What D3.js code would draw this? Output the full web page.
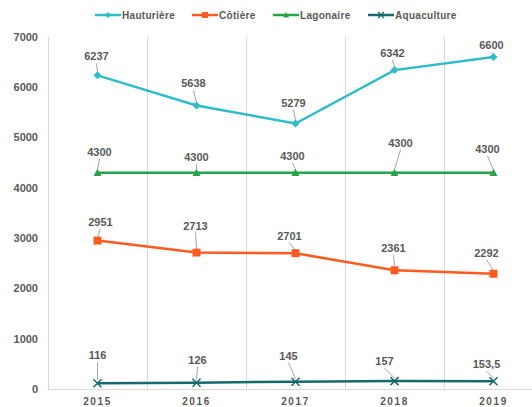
<!DOCTYPE html>
<html>
<head>
<meta charset="utf-8">
<script src="https://cdn.jsdelivr.net/npm/d3@7"></script>
<style>
  body { margin: 0; background: #fff; }
  text { font-family: "Liberation Sans", Arial, sans-serif; font-weight: bold; fill: #595959; }
</style>
</head>
<body>
<div id="chart"></div>
<script>
// data
var years = ["2015", "2016", "2017", "2018", "2019"];
var hauturiere = [6237, 5638, 5279, 6342, 6600];
var cotiere = [2951, 2713, 2701, 2361, 2292];
var lagonaire = [4300, 4300, 4300, 4300, 4300];
var aquaculture = [116, 126, 145, 157, 153.5];
var yTicks = [0, 1000, 2000, 3000, 4000, 5000, 6000, 7000];

var series = [
  {name: "Hauturière", values: hauturiere, color: "#2fbcc6", marker: "diamond"},
  {name: "Côtière", values: cotiere, color: "#ff5a1f", marker: "square"},
  {name: "Lagonaire", values: lagonaire, color: "#26a548", marker: "triangle"},
  {name: "Aquaculture", values: aquaculture, color: "#16696d", marker: "cross"}
];

// label offsets (dx, dy to baseline) from each point, per series
var labelOffsets = [
  [[-1, -15], [-3, -18], [-2, -17], [-2, -13], [-2, -8]],
  [[3, -15], [-1, -23], [-6, -13], [-1, -18], [-7, -17]],
  [[2, -17], [0, -12], [-3, -13], [6, -26], [-6, -20]],
  [[0, -24], [1, -19], [-7, -22], [-10, -16], [-7, -13]]
];

var W = 532, H = 407;
var margin = {top: 37, left: 48, bottom: 18};

var svg = d3.select("#chart")
  .append("svg")
    .attr("width", W)
    .attr("height", H);

var x = d3.scaleBand()
  .domain(years)
  .range([margin.left, 543]);

var y = d3.scaleLinear()
  .domain([0, 7000])
  .range([H - margin.bottom, margin.top]);

// vertical gridlines
svg.append("g")
  .selectAll("line")
  .data(years)
  .enter()
  .append("line")
    .attr("x1", function(d) { return x(d) + 0.5; })
    .attr("x2", function(d) { return x(d) + 0.5; })
    .attr("y1", y(7000))
    .attr("y2", y(0))
    .attr("stroke", "#d9d9d9")
    .attr("stroke-width", 1);

// baseline
svg.append("line")
  .attr("x1", margin.left)
  .attr("x2", W)
  .attr("y1", y(0) + 0.5)
  .attr("y2", y(0) + 0.5)
  .attr("stroke", "#d9d9d9");

// y axis labels
svg.append("g")
  .selectAll("text")
  .data(yTicks)
  .enter()
  .append("text")
    .attr("x", 38)
    .attr("y", function(d) { return y(d); })
    .attr("dy", "0.35em")
    .attr("text-anchor", "end")
    .style("font-size", "11px")
    .text(function(d) { return d; });

// x axis labels
svg.append("g")
  .selectAll("text")
  .data(years)
  .enter()
  .append("text")
    .attr("x", function(d) { return x(d) + x.bandwidth() / 2; })
    .attr("y", 405)
    .attr("text-anchor", "middle")
    .style("font-size", "10px")
    .style("letter-spacing", "1.6px")
    .text(function(d) { return d; });

var cx = function(i) { return x(years[i]) + x.bandwidth() / 2; };

var line = d3.line()
  .x(function(d, i) { return cx(i); })
  .y(function(d) { return y(d); });

var markerPath = function(type, r) {
  if (type == "diamond") return "M0," + (-r) + "L" + r + ",0L0," + r + "L" + (-r) + ",0Z";
  if (type == "square") return "M" + (-r) + "," + (-r) + "h" + 2 * r + "v" + 2 * r + "h" + (-2 * r) + "Z";
  if (type == "triangle") return "M0," + (-r) + "L" + r + "," + r * 0.8 + "L" + (-r) + "," + r * 0.8 + "Z";
  return "M" + (-r) + "," + (-r) + "L" + r + "," + r + "M" + r + "," + (-r) + "L" + (-r) + "," + r;
};

var fmt = function(v) { return String(v).replace(".", ","); };

series.forEach(function(s, si) {
  var g = svg.append("g");

  g.append("path")
    .datum(s.values)
    .attr("d", line)
    .attr("fill", "none")
    .attr("stroke", s.color)
    .attr("stroke-width", 2.5);

  // markers
  g.selectAll(".mk")
    .data(s.values)
    .enter()
    .append("path")
      .attr("class", "mk")
      .attr("transform", function(d, i) { return "translate(" + cx(i) + "," + y(d) + ")"; })
      .attr("d", markerPath(s.marker, 4))
      .attr("fill", s.marker == "cross" ? "none" : s.color)
      .attr("stroke", s.color)
      .attr("stroke-width", s.marker == "cross" ? 1.5 : 0);

  // leader lines
  g.selectAll(".ld")
    .data(s.values)
    .enter()
    .append("line")
      .attr("class", "ld")
      .attr("x1", function(d, i) { return cx(i) + labelOffsets[si][i][0]; })
      .attr("y1", function(d, i) { return y(d) + labelOffsets[si][i][1] + 3; })
      .attr("x2", function(d, i) { return cx(i); })
      .attr("y2", function(d) { return y(d) - 3; })
      .attr("stroke", "#8c8c8c")
      .attr("stroke-width", 0.8);

  // data labels
  g.selectAll(".lb")
    .data(s.values)
    .enter()
    .append("text")
      .attr("class", "lb")
      .attr("x", function(d, i) { return cx(i) + labelOffsets[si][i][0]; })
      .attr("y", function(d, i) { return y(d) + labelOffsets[si][i][1]; })
      .attr("text-anchor", "middle")
      .style("font-size", "11px")
      .text(function(d) { return fmt(d); });
});

// legend
var legendX = [95, 192, 273, 368];
var lg = svg.append("g")
  .selectAll("g")
  .data(series)
  .enter()
  .append("g")
    .attr("transform", function(d, i) { return "translate(" + legendX[i] + ",15)"; });

lg.append("line")
  .attr("x1", 0).attr("x2", 26)
  .attr("stroke", function(d) { return d.color; })
  .attr("stroke-width", 2.5);

lg.append("path")
  .attr("transform", "translate(13,0)")
  .attr("d", function(d) { return markerPath(d.marker, 3); })
  .attr("fill", function(d) { return d.marker == "cross" ? "none" : d.color; })
  .attr("stroke", function(d) { return d.color; })
  .attr("stroke-width", function(d) { return d.marker == "cross" ? 1.2 : 0; });

lg.append("text")
  .attr("x", 27)
  .attr("dy", "0.35em")
  .style("font-size", "10px")
  .style("letter-spacing", "0.3px")
  .text(function(d) { return d.name; });
</script>
</body>
</html>
